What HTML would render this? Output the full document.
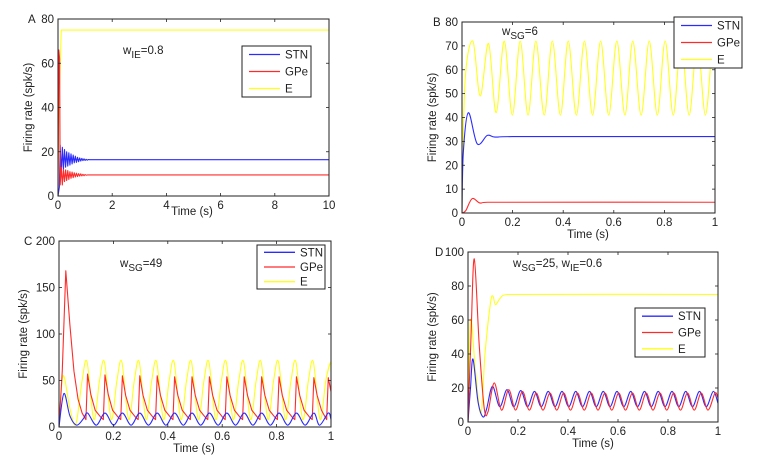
<!DOCTYPE html>
<html><head><meta charset="utf-8">
<style>
html,body{margin:0;padding:0;background:#fff;}
svg{display:block;font-family:"Liberation Sans",Arial,sans-serif;}
text{fill:#222;}
</style></head>
<body>
<svg id="fig" width="783" height="473" viewBox="0 0 783 473" xmlns="http://www.w3.org/2000/svg"></svg>
<script>
// ---------- Panel A data ----------
const tA_E=[0,0.02,0.05,0.12,10];
const vA_E=[0,30,45,75,75];
const tA_STN=[0,0.05,0.08,0.12,0.16,0.2,0.24,0.28,0.32,0.36,0.4,0.44,0.48,0.52,0.56,0.6,0.64,0.68,0.72,0.76,0.8,0.84,0.88,0.92,0.96,1.0,1.04,1.08,1.12,1.16,10];
const vA_STN=[0,4,23,10,22,12,21,13,20,13.5,19.5,14,19,14.5,18.5,15,18,15.2,17.5,15.5,17.2,15.8,17,16,16.8,16.1,16.6,16.2,16.5,16.4,16.4];
const tA_GPE=[0,0.03,0.06,0.08,0.12,0.16,0.2,0.24,0.28,0.32,0.36,0.4,0.44,0.48,0.52,0.56,0.6,0.64,0.68,0.72,0.76,0.8,0.84,0.88,0.92,0.96,1.0,1.04,1.08,10];
const vA_GPE=[0,66,62,5,13,5,12,6.5,11.8,7,11.5,7.5,11,8,10.8,8.3,10.5,8.6,10.3,8.8,10.1,9,10,9.1,9.8,9.2,9.7,9.4,9.5,9.5];
const xTicksA=[0,2,4,6,8,10];
const yTicksA=[0,20,40,60,80];

// ---------- Panel B data ----------
const tB_E=[0,0.012,0.043,0.072,0.105,0.135,0.167,0.199,0.23,0.261,0.292,0.325,0.357,0.389,0.42,0.452,0.484,0.516,0.548,0.58,0.612,0.644,0.675,0.708,0.74,0.772,0.803,0.835,0.866,0.898,0.93,0.962,0.99,1];
const vB_E=[0,55,72,49,71,42,72,41,72,41,72,41,72,41,72,41,72,41,72,41,72,41,72,41,72,41,72,41,72,41,72,41,72,70];
const tB_STN=[0,0.005,0.025,0.06,0.1,0.13,0.2,1];
const vB_STN=[0,25,42,29,32.5,31.8,32,32];
const tB_GPE=[0,0.015,0.04,0.07,0.1,1];
const vB_GPE=[0,1,6,4.2,4.5,4.5];
const xTicksB=[0,0.2,0.4,0.6,0.8,1];
const yTicksB=[0,10,20,30,40,50,60,70,80];

// ---------- Panel C data ----------
const tC_E=[0,0.015,0.04,0.062,0.085,0.103,0.128,0.149,0.167,0.192,0.213,0.231,0.256,0.277,0.295,0.32,0.341,0.359,0.384,0.405,0.423,0.448,0.469,0.487,0.512,0.533,0.551,0.576,0.597,0.615,0.64,0.661,0.679,0.704,0.725,0.743,0.768,0.789,0.807,0.832,0.853,0.871,0.896,0.917,0.935,0.96,0.981,0.999,1];
const vC_E=[0,55,20,3,50,70,8,50,70,8,50,70,8,50,70,8,50,70,8,50,70,8,50,70,8,50,70,8,50,70,8,50,70,8,50,70,8,50,70,8,50,70,8,50,70,8,50,70,60];
const tC_GPE=[0,0.012,0.025,0.04,0.055,0.07,0.085,0.099,
0.105,0.117,0.133,0.155,0.163,
0.169,0.181,0.197,0.219,0.227,
0.233,0.245,0.261,0.283,0.291,
0.297,0.309,0.325,0.347,0.355,
0.361,0.373,0.389,0.411,0.419,
0.425,0.437,0.453,0.475,0.483,
0.489,0.501,0.517,0.539,0.547,
0.553,0.565,0.581,0.603,0.611,
0.617,0.629,0.645,0.667,0.675,
0.681,0.693,0.709,0.731,0.739,
0.745,0.757,0.773,0.795,0.803,
0.809,0.821,0.837,0.859,0.867,
0.873,0.885,0.901,0.923,0.931,
0.937,0.949,0.965,0.978,0.984,0.99,1];
const vC_GPE=[0,60,168,110,60,30,15,8,
57,35,18,10,8,
56,35,18,10,8,
55,34,18,10,8,
55,34,18,10,8,
55,34,18,10,8,
54,34,18,10,8,
54,34,18,10,8,
54,34,18,10,8,
54,34,18,10,8,
54,34,18,10,8,
54,34,18,10,8,
54,34,18,10,8,
54,34,18,10,8,
53,34,18,11,8,53,38];
const tC_STN=[0,0.018,0.04,0.065,0.09,0.105,0.137,0.169,0.201,0.233,0.265,0.297,0.329,0.361,0.393,0.425,0.457,0.489,0.521,0.553,0.585,0.617,0.649,0.681,0.713,0.745,0.777,0.809,0.841,0.873,0.905,0.937,0.958,0.99,1];
const vC_STN=[0,36,12,2,9,15,2,15,2,15,2,15,2,15,2,15,2,15,2,15,2,15,2,15,2,15,2,15,2,15,2,15,2,15,8];
const xTicksC=[0,0.2,0.4,0.6,0.8,1];
const yTicksC=[0,50,100,150,200];

// ---------- Panel D data ----------
const tD_E=[0,0.01,0.03,0.052,0.068,0.09,0.1,0.11,0.13,0.16,1];
const vD_E=[0,60,30,5,40,70,74,69,73,75,75];
const tD_GPE=[0,0.012,0.025,0.045,0.065,0.08,0.105,0.134,0.163,0.19,0.218,0.245,0.273,0.3,0.328,0.355,0.383,0.41,0.438,0.465,0.493,0.52,0.548,0.575,0.603,0.63,0.658,0.685,0.713,0.74,0.768,0.795,0.823,0.85,0.878,0.905,0.933,0.96,0.988,1];
const vD_GPE=[0,50,96,45,8,6,23,7,19,7,18,7,17,7,17,7,17,7,17,7,17,7,17,7,17,7,17,7,17,7,17,7,17,7,17,7,17,7,17,14];
const tD_STN=[0,0.01,0.02,0.04,0.06,0.075,0.098,0.127,0.156,0.183,0.211,0.238,0.266,0.293,0.321,0.348,0.376,0.403,0.431,0.458,0.486,0.513,0.541,0.568,0.596,0.623,0.651,0.678,0.706,0.733,0.761,0.788,0.816,0.843,0.871,0.898,0.926,0.953,0.981,1];
const vD_STN=[0,20,37,12,3,8,21,9,19,9,18.5,9,18,9,18,9,18,9,18,9,18,9,18,9,18,9,18,9,18,9,18,9,18,9,18,9,18,9,18,11];
const xTicksD=[0,0.2,0.4,0.6,0.8,1];
const yTicksD=[0,20,40,60,80,100];

const legendLabels=["STN","GPe","E"];
const COLORS={STN:"#2b2bff",GPe:"#ff2b2b",E:"#ffff1a"};

const NS="http://www.w3.org/2000/svg";
const fig=document.getElementById('fig');
function mk(tag,attrs,parent){const e=document.createElementNS(NS,tag);for(const k in attrs)e.setAttribute(k,attrs[k]);(parent||fig).appendChild(e);return e;}

function pathFor(ts,vs,sx,sy,smooth){
  const p=ts.map((t,i)=>[sx(t),sy(vs[i])]);
  let d="M"+p[0][0].toFixed(2)+","+p[0][1].toFixed(2);
  if(!smooth){for(let i=1;i<p.length;i++)d+="L"+p[i][0].toFixed(2)+","+p[i][1].toFixed(2);return d;}
  for(let i=0;i<p.length-1;i++){
    const p0=p[i-1]||p[i],p1=p[i],p2=p[i+1],p3=p[i+2]||p2;
    const c1=[p1[0]+(p2[0]-p0[0])/6,p1[1]+(p2[1]-p0[1])/6];
    const c2=[p2[0]-(p3[0]-p1[0])/6,p2[1]-(p3[1]-p1[1])/6];
    c1[0]=Math.min(Math.max(c1[0],p1[0]),p2[0]);c2[0]=Math.min(Math.max(c2[0],p1[0]),p2[0]);
    d+="C"+c1[0].toFixed(2)+","+c1[1].toFixed(2)+" "+c2[0].toFixed(2)+","+c2[1].toFixed(2)+" "+p2[0].toFixed(2)+","+p2[1].toFixed(2);
  }
  return d;
}

function panel(cfg){
  const g=mk('g',{});
  
  
  const {L,R,T,B}=cfg;
  const sx=t=>L+(t-cfg.xd[0])/(cfg.xd[1]-cfg.xd[0])*(R-L);
  const sy=v=>B-(v-cfg.yd[0])/(cfg.yd[1]-cfg.yd[0])*(B-T);
  const clip=mk('clipPath',{id:'clip'+cfg.id},g);
  mk('rect',{x:L,y:T,width:R-L,height:B-T},clip);
  // series
  const sg=mk('g',{'clip-path':'url(#clip'+cfg.id+')'},g);
  cfg.series.forEach(s=>{
    const p=mk('path',{d:pathFor(s.t,s.v,sx,sy,s.smooth),fill:'none',stroke:COLORS[s.name],'stroke-width':1.1,'stroke-linejoin':'round'},sg);
    
    
  });
  // axes box
  const box=mk('rect',{x:L,y:T,width:R-L,height:B-T,fill:'none',stroke:'#222','stroke-width':1},g);
  
  
  cfg.xt.forEach(t=>{
    const x=sx(t);
    mk('line',{x1:x,x2:x,y1:B,y2:B-3,stroke:'#222','stroke-width':0.8},g);
    mk('line',{x1:x,x2:x,y1:T,y2:T+3,stroke:'#222','stroke-width':0.8},g);
    const tx=mk('text',{x:x,y:B+13,'font-size':11.5,'text-anchor':'middle'},g);
    tx.textContent=String(t);
    
    
  });
  cfg.yt.forEach(v=>{
    const y=sy(v);
    mk('line',{x1:L,x2:L+3,y1:y,y2:y,stroke:'#222','stroke-width':0.8},g);
    mk('line',{x1:R,x2:R-3,y1:y,y2:y,stroke:'#222','stroke-width':0.8},g);
    const tx=mk('text',{x:L-4,y:y+4,'font-size':11.5,'text-anchor':'end'},g);
    tx.textContent=String(v);
    
    
  });
  const xl=mk('text',{x:cfg.xlx,y:cfg.xly,'font-size':11.5,'text-anchor':'middle'},g);
  xl.textContent='Time (s)';
  
  
  const yx=L-cfg.ylOff, yy=(T+B)/2;
  const yl=mk('text',{x:yx,y:yy,'font-size':11.5,'text-anchor':'middle',transform:'rotate(-90 '+yx+' '+yy+')'},g);
  yl.textContent='Firing rate (spk/s)';
  
  
  const pl=mk('text',{x:cfg.labX,y:T+4,'font-size':11.5},g);
  pl.textContent=cfg.id;
  
  
  // annotation
  const an=mk('text',{x:cfg.anX,y:cfg.anY,'font-size':11.5},g);
  
  
  cfg.ann.forEach(part=>{
    const ts=mk('tspan',{},an);
    if(part[1]==='sub'){ts.setAttribute('dy','4');ts.setAttribute('font-size','10');}
    else if(part[1]==='back'){ts.setAttribute('dy','-4');}
    ts.textContent=part[0];
  });
  // legend
  const lg=mk('g',{},g);
  
  
  const lb=cfg.leg;
  mk('rect',{x:lb[0],y:lb[1],width:lb[2]-lb[0],height:lb[3]-lb[1],fill:'#fff',stroke:'#222','stroke-width':1},lg);
  const rowH=(lb[3]-lb[1])/3;
  legendLabels.forEach((n,i)=>{
    const y=lb[1]+rowH*(i+0.5);
    const e=mk('g',{},lg);
    
    
    mk('line',{x1:lb[0]+7,x2:lb[0]+38,y1:y,y2:y,stroke:COLORS[n],'stroke-width':1.3},e);
    const t=mk('text',{x:lb[0]+43,y:y+4,'font-size':11.5},e);
    t.textContent=n;
  });
}

panel({id:'A',L:58,R:329,T:19,B:196,xd:[0,10],yd:[0,80],xt:xTicksA,yt:yTicksA,
  series:[{name:'E',t:tA_E,v:vA_E},{name:'STN',t:tA_STN,v:vA_STN},{name:'GPe',t:tA_GPE,v:vA_GPE}],
  leg:[242,46,311,97],xlx:192,xly:215,ylOff:26,labX:28,anX:123,anY:54,
  ann:[['w',''],['IE','sub'],['=0.8','back']]});
panel({id:'B',L:462,R:715,T:22,B:213,xd:[0,1],yd:[0,80],xt:xTicksB,yt:yTicksB,
  series:[{name:'E',t:tB_E,v:vB_E,smooth:true},{name:'STN',t:tB_STN,v:vB_STN,smooth:true},{name:'GPe',t:tB_GPE,v:vB_GPE,smooth:true}],
  leg:[674,17,742,68],xlx:588,xly:238,ylOff:26,labX:433,anX:502,anY:35,
  ann:[['w',''],['SG','sub'],['=6','back']]});
panel({id:'C',L:59,R:331,T:241,B:427,xd:[0,1],yd:[0,200],xt:xTicksC,yt:yTicksC,
  series:[{name:'E',t:tC_E,v:vC_E,smooth:true},{name:'GPe',t:tC_GPE,v:vC_GPE},{name:'STN',t:tC_STN,v:vC_STN,smooth:true}],
  leg:[257,245,325,289],xlx:194,xly:452,ylOff:32,labX:24,anX:120,anY:267,
  ann:[['w',''],['SG','sub'],['=49','back']]});
panel({id:'D',L:468,R:718,T:252,B:422,xd:[0,1],yd:[0,100],xt:xTicksD,yt:yTicksD,
  series:[{name:'E',t:tD_E,v:vD_E,smooth:true},{name:'STN',t:tD_STN,v:vD_STN,smooth:true},{name:'GPe',t:tD_GPE,v:vD_GPE,smooth:true}],
  leg:[635,308,705,357],xlx:593,xly:447,ylOff:32,labX:435,anX:513,anY:267,
  ann:[['w',''],['SG','sub'],['=25, w','back'],['IE','sub'],['=0.6','back']]});
</script>
</body></html>
